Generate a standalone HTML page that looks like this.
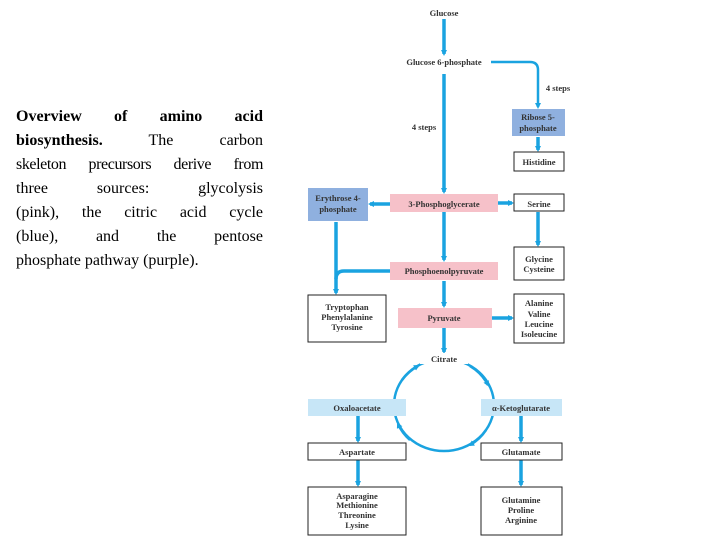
<!DOCTYPE html>
<html><head><meta charset="utf-8"><style>
body{margin:0;width:720px;height:540px;background:#fff;position:relative;overflow:hidden}
#t{position:absolute;left:16px;top:105px;width:247px;font-family:"Liberation Serif",serif;font-size:16px;line-height:24px;color:#000}
#t div{text-align:justify;text-align-last:justify;white-space:nowrap}
#t div.l{text-align-last:left}
svg{position:absolute;left:0;top:0}
text{font-family:"Liberation Serif",serif;font-size:8.5px;font-weight:bold;fill:#333;text-anchor:middle}
</style></head><body>
<div id="t">
<div><b>Overview of amino acid</b></div>
<div><b>biosynthesis.</b> The carbon</div>
<div style="letter-spacing:-0.4px">skeleton precursors derive from</div>
<div>three sources: glycolysis</div>
<div>(pink), the citric acid cycle</div>
<div>(blue), and the pentose</div>
<div class="l">phosphate pathway (purple).</div>
</div>
<svg width="720" height="540" viewBox="0 0 720 540">
<defs><marker id="a" markerWidth="6" markerHeight="6" refX="4" refY="3" orient="auto" markerUnits="userSpaceOnUse"><path d="M0,0 L6,3 L0,6z" fill="#1aa3e0"/></marker></defs>
<g stroke="#1aa3e0" stroke-width="3.5" fill="none">
<line x1="444" y1="19" x2="444" y2="54" marker-end="url(#a)"/>
<line x1="444" y1="74" x2="444" y2="192" marker-end="url(#a)"/>
<path d="M491,62 H530 Q538,62 538,70 V107" stroke-width="2.5" marker-end="url(#a)"/>
<line x1="538" y1="137" x2="538" y2="150" marker-end="url(#a)"/>
<line x1="390" y1="204" x2="370" y2="204" marker-end="url(#a)"/>
<line x1="498" y1="203" x2="512" y2="203" marker-end="url(#a)"/>
<line x1="538" y1="212" x2="538" y2="245" marker-end="url(#a)"/>
<line x1="444" y1="212" x2="444" y2="260" marker-end="url(#a)"/>
<path d="M336,222 V293" marker-end="url(#a)"/>
<path d="M390,271 H344 Q336,271 336,279"/>
<line x1="444" y1="281" x2="444" y2="306" marker-end="url(#a)"/>
<line x1="492" y1="318" x2="512" y2="318" marker-end="url(#a)"/>
<line x1="444" y1="328" x2="444" y2="352" marker-end="url(#a)"/>
<ellipse cx="444" cy="405" rx="50" ry="46" stroke-width="2.5"/>
<path d="M470,366 A50,46 0 0 1 488,385" stroke-width="2.5" marker-end="url(#a)"/>
<path d="M486,430 A50,46 0 0 1 470,445" stroke-width="2.5" marker-end="url(#a)"/>
<path d="M410,440 A50,46 0 0 1 398,424" stroke-width="2.5" marker-end="url(#a)"/>
<path d="M402,380 A50,46 0 0 1 418,366" stroke-width="2.5" marker-end="url(#a)"/>
<line x1="358" y1="416" x2="358" y2="441" marker-end="url(#a)"/>
<line x1="358" y1="460" x2="358" y2="485" marker-end="url(#a)"/>
<line x1="521" y1="416" x2="521" y2="441" marker-end="url(#a)"/>
<line x1="521" y1="460" x2="521" y2="485" marker-end="url(#a)"/>
</g>
<rect x="420" y="353" width="48" height="11" fill="#fff"/>
<g stroke="#222" stroke-width="1" fill="#fff">
<rect x="514" y="152" width="50" height="19"/>
<rect x="514" y="194" width="50" height="17"/>
<rect x="514" y="247" width="50" height="33"/>
<rect x="308" y="295" width="78" height="47"/>
<rect x="514" y="294" width="50" height="49"/>
<rect x="308" y="443" width="98" height="17"/>
<rect x="481" y="443" width="81" height="17"/>
<rect x="308" y="487" width="98" height="48"/>
<rect x="481" y="487" width="81" height="48"/>
</g>
<rect x="512" y="109" width="53" height="27" fill="#8fb0df"/>
<rect x="308" y="188" width="60" height="33" fill="#8fb0df"/>
<rect x="390" y="194" width="108" height="18" fill="#f6c1c9"/>
<rect x="390" y="262" width="108" height="18" fill="#f6c1c9"/>
<rect x="398" y="308" width="94" height="20" fill="#f6c1c9"/>
<rect x="308" y="399" width="98" height="17" fill="#c7e6f7"/>
<rect x="481" y="399" width="81" height="17" fill="#c7e6f7"/>
<text x="444" y="16">Glucose</text>
<text x="444" y="65">Glucose 6-phosphate</text>
<text x="424" y="130">4 steps</text>
<text x="558" y="91">4 steps</text>
<text x="538" y="120">Ribose 5-</text><text x="538" y="131">phosphate</text>
<text x="539" y="165">Histidine</text>
<text x="338" y="201">Erythrose 4-</text><text x="338" y="212">phosphate</text>
<text x="444" y="207">3-Phosphoglycerate</text>
<text x="539" y="207">Serine</text>
<text x="539" y="262">Glycine</text><text x="539" y="272">Cysteine</text>
<text x="444" y="274">Phosphoenolpyruvate</text>
<text x="347" y="310">Tryptophan</text><text x="347" y="320">Phenylalanine</text><text x="347" y="330">Tyrosine</text>
<text x="444" y="321">Pyruvate</text>
<text x="539" y="306">Alanine</text><text x="539" y="317">Valine</text><text x="539" y="327">Leucine</text><text x="539" y="337">Isoleucine</text>
<text x="444" y="362">Citrate</text>
<text x="357" y="411">Oxaloacetate</text>
<text x="521" y="411">α-Ketoglutarate</text>
<text x="357" y="455">Aspartate</text>
<text x="521" y="455">Glutamate</text>
<text x="357" y="499">Asparagine</text><text x="357" y="508">Methionine</text><text x="357" y="518">Threonine</text><text x="357" y="528">Lysine</text>
<text x="521" y="503">Glutamine</text><text x="521" y="513">Proline</text><text x="521" y="523">Arginine</text>
</svg>
</body></html>
